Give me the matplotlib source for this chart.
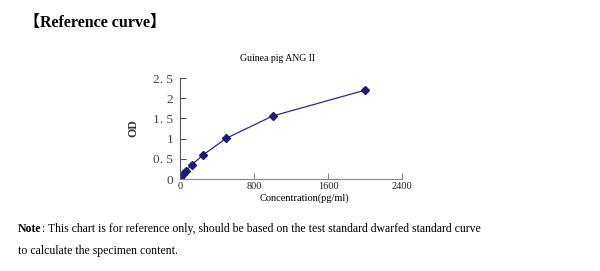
import matplotlib.pyplot as plt

# Standard curve readings
conc = [0, 15.625, 31.25, 62.5, 125, 250, 500, 1000, 2000]
od = [0.03, 0.08, 0.13, 0.2, 0.35, 0.6, 1.01, 1.56, 2.2]

x_ticks = [0, 800, 1600, 2400]
y_ticks = [0, 0.5, 1, 1.5, 2, 2.5]
y_tick_labels = ['0', '0. 5', '1', '1. 5', '2', '2. 5']

serif = ['Liberation Serif', 'Noto Sans CJK SC']

fig = plt.figure(figsize=(6, 2.71), dpi=100)
ax = fig.add_axes([0.30, 0.339, 0.37, 0.373])

ax.plot(conc, od, color='#2a2a8a', linewidth=0.9, marker='D',
        markersize=4.5, markerfacecolor='#1c1c78', markeredgecolor='#1c1c78')

ax.set_xlim(0, 2400)
ax.set_ylim(0, 2.5)
ax.set_xticks(x_ticks)
ax.set_yticks(y_ticks)
ax.set_yticklabels(y_tick_labels)

for side in ['top', 'right']:
    ax.spines[side].set_visible(False)
ax.spines['left'].set_color('#555555')
ax.spines['bottom'].set_color('#888888')
ax.spines['left'].set_linewidth(0.8)
ax.spines['bottom'].set_linewidth(0.8)

ax.tick_params(axis='y', direction='in', length=4, width=0.8, color='#555555',
               labelsize=9.5, labelcolor='#444444', pad=5)
ax.tick_params(axis='x', direction='in', length=4, width=0.8, color='#888888',
               labelsize=7.5, labelcolor='#222222', pad=2)
for lbl in ax.get_xticklabels() + ax.get_yticklabels():
    lbl.set_family(serif)

# Texts around the chart
fig.text(0.04, 0.915, '【Reference curve】', fontsize=11.5, fontweight='bold',
         family=serif, ha='left', va='center')
fig.text(0.463, 0.785, 'Guinea pig ANG II', fontsize=7, family=serif,
         ha='center', va='center')
fig.text(0.222, 0.528, 'OD', fontsize=8.5, fontweight='bold', family=serif,
         rotation=90, ha='center', va='center', color='#333333')
fig.text(0.507, 0.268, 'Concentration(pg/ml)', fontsize=7.5, family=serif,
         ha='center', va='center')

note = fig.text(0.03, 0.155, 'Note', fontsize=8.5, fontweight='bold', family=serif,
                ha='left', va='center')
fig.canvas.draw()
bb = note.get_window_extent().transformed(fig.transFigure.inverted())
fig.text(bb.x1, 0.155, ': This chart is for reference only, should be based on the test '
         'standard dwarfed standard curve', fontsize=8.5, family=serif,
         ha='left', va='center')
fig.text(0.03, 0.075, 'to calculate the specimen content.', fontsize=8.5,
         family=serif, ha='left', va='center')

fig.savefig('out.png', dpi=100)
